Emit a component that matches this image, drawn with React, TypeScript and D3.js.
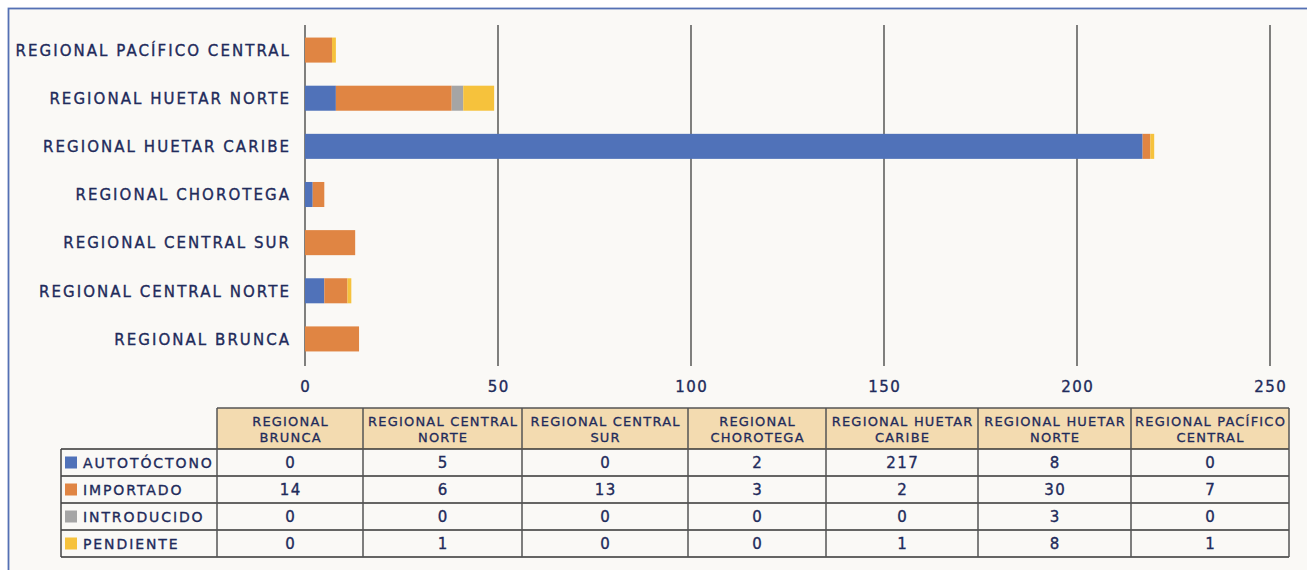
import React from "react";
import * as d3 from "d3";

const regions = [
  "REGIONAL BRUNCA",
  "REGIONAL CENTRAL NORTE",
  "REGIONAL CENTRAL SUR",
  "REGIONAL CHOROTEGA",
  "REGIONAL HUETAR CARIBE",
  "REGIONAL HUETAR NORTE",
  "REGIONAL PACÍFICO CENTRAL",
];
const headerLines = [
  ["REGIONAL", "BRUNCA"],
  ["REGIONAL CENTRAL", "NORTE"],
  ["REGIONAL CENTRAL", "SUR"],
  ["REGIONAL", "CHOROTEGA"],
  ["REGIONAL HUETAR", "CARIBE"],
  ["REGIONAL HUETAR", "NORTE"],
  ["REGIONAL PACÍFICO", "CENTRAL"],
];
const seriesNames = ["AUTOTÓCTONO", "IMPORTADO", "INTRODUCIDO", "PENDIENTE"];
const autoctono = [0, 5, 0, 2, 217, 8, 0];
const importado = [14, 6, 13, 3, 2, 30, 7];
const introducido = [0, 0, 0, 0, 0, 3, 0];
const pendiente = [0, 1, 0, 0, 1, 8, 1];
const seriesColors = ["#5072b9", "#e08543", "#a5a5a5", "#f6c23c"];
const ticks = [0, 50, 100, 150, 200, 250];

// layout (not data)
const colEdges = [217, 363, 522, 688, 826, 978, 1131, 1289];
const rowEdges = [408, 449, 476, 503, 530, 557];

const FONT = "'DejaVu Sans', sans-serif";
const NAVY = "#1f2b5b";
const txt = { fill: NAVY, stroke: NAVY, strokeWidth: 0.35 } as any;

export default function App() {
  const seriesValues = [autoctono, importado, introducido, pendiente];
  const rows = regions.map((r, i) => {
    const o: any = { region: r };
    seriesNames.forEach((s, j) => (o[s] = seriesValues[j][i]));
    return o;
  });
  const stacked = d3.stack().keys(seriesNames)(rows);

  const x = d3.scaleLinear().domain([0, 250]).range([305, 1270]);
  const y = d3
    .scaleBand()
    .domain([...regions].reverse())
    .range([26, 363])
    .paddingInner(0.48)
    .paddingOuter(0.24);

  return (
    <svg
      width={1307}
      height={570}
      style={{ position: "absolute", left: 0, top: 0 }}
      fontFamily={FONT}
    >
      <rect x={0} y={0} width={1307} height={570} fill="#ffffff" />
      <rect x={8.5} y={8.5} width={1320} height={600} fill="#faf9f6" stroke="#5470b4" strokeWidth={1.8} />

      {/* gridlines */}
      {ticks.map((t) => (
        <line key={t} x1={x(t)} x2={x(t)} y1={25} y2={366} stroke="#2e2e2e" strokeWidth={1.2} />
      ))}
      {ticks.map((t) => (
        <text key={"t" + t} x={x(t) + 0.75} y={392} textAnchor="middle" fontSize={15} letterSpacing={1.5} {...txt}>
          {t}
        </text>
      ))}

      {/* bars */}
      {stacked.map((s, si) =>
        s.map((d: any, i) => (
          <rect
            key={si + "-" + i}
            x={x(d[0])}
            y={y(regions[i])}
            width={Math.max(0, x(d[1]) - x(d[0]))}
            height={y.bandwidth()}
            fill={seriesColors[si]}
          />
        ))
      )}

      {/* category labels */}
      {regions.map((r) => (
        <text
          key={r}
          x={291}
          y={(y(r) as number) + y.bandwidth() / 2 + 0.5}
          dy="0.35em"
          textAnchor="end"
          fontSize={15}
          letterSpacing={2.05}
          {...txt}
        >
          {r}
        </text>
      ))}

      {/* table */}
      <rect
        x={colEdges[0]}
        y={rowEdges[0]}
        width={colEdges[colEdges.length - 1] - colEdges[0]}
        height={rowEdges[1] - rowEdges[0]}
        fill="#f3dbb0"
      />
      <line x1={colEdges[0]} x2={colEdges[7]} y1={rowEdges[0]} y2={rowEdges[0]} stroke="#555" strokeWidth={1.5} />
      {rowEdges.slice(1).map((ry, i) => (
        <line key={"h" + i} x1={61} x2={colEdges[7]} y1={ry} y2={ry} stroke="#333" strokeWidth={1.5} />
      ))}
      <line x1={61} x2={61} y1={rowEdges[1]} y2={rowEdges[5]} stroke="#444" strokeWidth={1.5} />
      {colEdges.map((cx, i) => (
        <line key={"v" + i} x1={cx} x2={cx} y1={rowEdges[0]} y2={rowEdges[5]} stroke="#555" strokeWidth={1.5} />
      ))}
      {headerLines.map((lines, i) => {
        const cx = (colEdges[i] + colEdges[i + 1]) / 2 + 0.6;
        return (
          <text key={"hd" + i} textAnchor="middle" fontSize={13} letterSpacing={1.2} {...txt} strokeWidth={0.3}>
            <tspan x={cx} y={426}>{lines[0]}</tspan>
            <tspan x={cx} y={442}>{lines[1]}</tspan>
          </text>
        );
      })}
      {seriesNames.map((s, si) => {
        const ry0 = rowEdges[si + 1];
        const ry1 = rowEdges[si + 2];
        const cy = (ry0 + ry1) / 2;
        return (
          <g key={"r" + s}>
            <rect x={65} y={cy - 6} width={12} height={12} fill={seriesColors[si]} />
            <text x={83} y={cy} dy="0.36em" fontSize={14} letterSpacing={1.9} {...txt}>
              {s}
            </text>
            {seriesValues[si].map((v, ci) => (
              <text
                key={ci}
                x={(colEdges[ci] + colEdges[ci + 1]) / 2 + 0.75}
                y={cy}
                dy="0.36em"
                textAnchor="middle"
                fontSize={15}
                letterSpacing={1.5}
                {...txt}
              >
                {v}
              </text>
            ))}
          </g>
        );
      })}
    </svg>
  );
}
